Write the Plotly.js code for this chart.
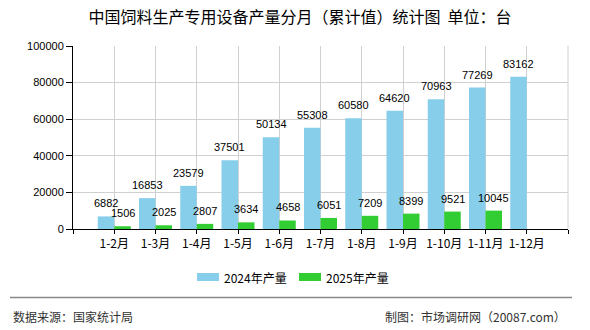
<!DOCTYPE html>
<html>
<head>
<meta charset="utf-8">
<script src="https://cdn.plot.ly/plotly-3.0.1.min.js"></script>
<style>
  html, body { margin: 0; padding: 0; background: #fff; }
  #chart { width: 590px; height: 330px; }
</style>
</head>
<body>
<div id="chart"></div>
<script>
// Monthly cumulative output of feed-production equipment (units)
const months = ['1-2月', '1-3月', '1-4月', '1-5月', '1-6月', '1-7月', '1-8月', '1-9月', '1-10月', '1-11月', '1-12月'];
const output2024 = [6882, 16853, 23579, 37501, 50134, 55308, 60580, 64620, 70963, 77269, 83162];
const output2025 = [1506, 2025, 2807, 3634, 4658, 6051, 7209, 8399, 9521, 10045, null];
const seriesNames = ['2024年产量', '2025年产量'];
const yTicks = [0, 20000, 40000, 60000, 80000, 100000];

const W = 590, H = 330;
const M = { l: 73, r: 22, t: 46, b: 101 };
const PW = W - M.l - M.r, PH = H - M.t - M.b;
// convert page pixels to paper fractions for overlays
const px = x => (x - M.l) / PW;
const py = y => (H - M.b - y) / PH;

const blue = '#87CEEB';
const green = '#32CD32';
const numFont = 'Liberation Sans, Arial, "Noto Sans CJK SC", sans-serif';
const cjkFont = '"Noto Sans CJK SC", "Liberation Sans", sans-serif';

const xs = months.map((_, i) => i + 1);

const traces = [
  { type: 'bar', name: seriesNames[0], x: xs, y: output2024, marker: { color: blue }, hoverinfo: 'y' },
  { type: 'bar', name: seriesNames[1], x: xs, y: output2025, marker: { color: green }, hoverinfo: 'y' }
];

const annotations = [];
const labelFont = { family: numFont, size: 11, color: '#000' };
output2024.forEach((v, i) => {
  if (v == null) return;
  annotations.push({ x: xs[i] - 0.2, y: v, xref: 'x', yref: 'y', text: String(v), showarrow: false,
    yanchor: 'bottom', xanchor: 'center', yshift: 5, font: labelFont });
});
output2025.forEach((v, i) => {
  if (v == null) return;
  annotations.push({ x: xs[i] + 0.2, y: v, xref: 'x', yref: 'y', text: String(v), showarrow: false,
    yanchor: 'bottom', xanchor: 'center', yshift: 5, font: labelFont });
});

// legend entries
const legendY = 277;
const legendItems = [
  { x0: 197, color: blue, text: seriesNames[0] },
  { x0: 299, color: green, text: seriesNames[1] }
];
const shapes = [];
legendItems.forEach(it => {
  shapes.push({ type: 'rect', xref: 'paper', yref: 'paper', x0: px(it.x0), x1: px(it.x0 + 22),
    y0: py(legendY + 4), y1: py(legendY - 4), fillcolor: it.color, line: { width: 0 } });
  annotations.push({ xref: 'paper', yref: 'paper', x: px(it.x0 + 25), y: py(legendY), xanchor: 'left',
    yanchor: 'middle', showarrow: false, text: it.text, font: { family: cjkFont, size: 12, color: '#000' } });
});

// footer
shapes.push({ type: 'line', xref: 'paper', yref: 'paper', x0: px(10), x1: px(572), y0: py(297.5), y1: py(297.5),
  line: { color: '#888', width: 1.5 } });
annotations.push({ xref: 'paper', yref: 'paper', x: px(11), y: py(316), xanchor: 'left', yanchor: 'middle',
  showarrow: false, text: '数据来源：国家统计局', font: { family: cjkFont, size: 12, color: '#333' } });
annotations.push({ xref: 'paper', yref: 'paper', x: px(568), y: py(316), xanchor: 'right', yanchor: 'middle',
  showarrow: false, text: '制图：市场调研网（20087.com）', font: { family: cjkFont, size: 12, color: '#333' } });

const layout = {
  width: W, height: H,
  margin: M,
  paper_bgcolor: '#fff', plot_bgcolor: '#fff',
  showlegend: false,
  barmode: 'group', bargap: 0.2, bargroupgap: 0,
  title: { text: '中国饲料生产专用设备产量分月（累计值）统计图  单位：台', xref: 'container', x: 0.5 + 5 / W, xanchor: 'center',
    yref: 'container', y: 1 - 17.5 / H, yanchor: 'middle', font: { family: cjkFont, size: 16, color: '#000' } },
  xaxis: {
    type: 'linear', range: [0, months.length + 1],
    tickmode: 'array', tickvals: [0, ...xs, months.length + 1], ticktext: ['', ...months, ''],
    showgrid: true, gridcolor: '#d0d0d0', gridwidth: 1,
    showline: true, linecolor: '#000', linewidth: 1, mirror: false,
    ticks: 'outside', ticklen: 4, tickcolor: '#000',
    tickfont: { family: cjkFont, size: 12, color: '#000' }, zeroline: false, fixedrange: true
  },
  yaxis: {
    range: [0, 100000], tickmode: 'array', tickvals: yTicks, ticktext: yTicks.map(String),
    showgrid: true, gridcolor: '#d0d0d0', gridwidth: 1,
    showline: true, linecolor: '#000', linewidth: 1,
    ticks: 'outside', ticklen: 6, tickcolor: '#000',
    tickfont: { family: numFont, size: 11, color: '#000' }, zeroline: false, fixedrange: true
  },
  shapes: shapes.concat([
    // right frame edge
    { type: 'line', xref: 'paper', yref: 'paper', x0: 1, x1: 1, y0: 0, y1: 1, line: { color: '#d0d0d0', width: 1 } }
  ]),
  annotations: annotations
};

Plotly.newPlot('chart', traces, layout, { staticPlot: true, displayModeBar: false });
</script>
</body>
</html>
